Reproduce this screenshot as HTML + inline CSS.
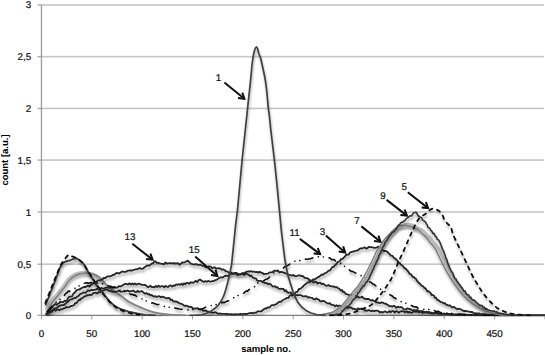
<!DOCTYPE html>
<html><head><meta charset="utf-8"><style>
html,body{margin:0;padding:0;background:#fff;}
body{width:545px;height:355px;overflow:hidden;}
svg{display:block;font-family:"Liberation Sans",sans-serif;text-rendering:geometricPrecision;}
.t{font-size:9.8px;fill:#111;stroke:#111;stroke-width:0.22px;}
.b{font-size:9.5px;font-weight:bold;fill:#000;}
</style></head><body>
<svg width="545" height="355" viewBox="0 0 545 355">
<defs><filter id="sh" x="-5%" y="-5%" width="110%" height="120%"><feDropShadow dx="0.6" dy="2.6" stdDeviation="1.3" flood-color="#000" flood-opacity="0.34"/></filter><clipPath id="pc"><rect x="41.5" y="0" width="504" height="316.2"/></clipPath></defs>
<rect width="545" height="355" fill="#fff"/>
<rect x="41.45" y="263.40" width="502.55" height="1.6" fill="#c6c6c6"/><rect x="41.45" y="211.20" width="502.55" height="1.6" fill="#c6c6c6"/><rect x="41.45" y="159.30" width="502.55" height="1.6" fill="#c6c6c6"/><rect x="41.45" y="107.65" width="502.55" height="1.6" fill="#c6c6c6"/><rect x="41.45" y="55.85" width="502.55" height="1.6" fill="#c6c6c6"/><rect x="41.45" y="4.15" width="502.55" height="1.6" fill="#c6c6c6"/>
<rect x="40.80" y="4.95" width="1.3" height="310.40" fill="#9a9a9a"/>
<rect x="37.6" y="314.75" width="3.85" height="1.2" fill="#a0a0a0"/><rect x="37.6" y="263.60" width="3.85" height="1.2" fill="#a0a0a0"/><rect x="37.6" y="211.40" width="3.85" height="1.2" fill="#a0a0a0"/><rect x="37.6" y="159.50" width="3.85" height="1.2" fill="#a0a0a0"/><rect x="37.6" y="107.85" width="3.85" height="1.2" fill="#a0a0a0"/><rect x="37.6" y="56.05" width="3.85" height="1.2" fill="#a0a0a0"/><rect x="37.6" y="4.35" width="3.85" height="1.2" fill="#a0a0a0"/><rect x="40.95" y="315.35" width="1" height="4" fill="#a0a0a0"/><rect x="91.30" y="315.35" width="1" height="4" fill="#a0a0a0"/><rect x="141.65" y="315.35" width="1" height="4" fill="#a0a0a0"/><rect x="192.00" y="315.35" width="1" height="4" fill="#a0a0a0"/><rect x="242.35" y="315.35" width="1" height="4" fill="#a0a0a0"/><rect x="292.70" y="315.35" width="1" height="4" fill="#a0a0a0"/><rect x="343.05" y="315.35" width="1" height="4" fill="#a0a0a0"/><rect x="393.40" y="315.35" width="1" height="4" fill="#a0a0a0"/><rect x="443.75" y="315.35" width="1" height="4" fill="#a0a0a0"/><rect x="494.10" y="315.35" width="1" height="4" fill="#a0a0a0"/><rect x="544.45" y="315.35" width="1" height="4" fill="#a0a0a0"/>
<g class="t"><text x="31.2" y="318.85" text-anchor="end">0</text><text x="31.2" y="267.70" text-anchor="end">0,5</text><text x="31.2" y="215.50" text-anchor="end">1</text><text x="31.2" y="163.60" text-anchor="end">1,5</text><text x="31.2" y="111.95" text-anchor="end">2</text><text x="31.2" y="60.15" text-anchor="end">2,5</text><text x="31.2" y="8.45" text-anchor="end">3</text><text x="41.45" y="337.1" text-anchor="middle">0</text><text x="91.80" y="337.1" text-anchor="middle">50</text><text x="142.15" y="337.1" text-anchor="middle">100</text><text x="192.50" y="337.1" text-anchor="middle">150</text><text x="242.85" y="337.1" text-anchor="middle">200</text><text x="293.20" y="337.1" text-anchor="middle">250</text><text x="343.55" y="337.1" text-anchor="middle">300</text><text x="393.90" y="337.1" text-anchor="middle">350</text><text x="444.25" y="337.1" text-anchor="middle">400</text><text x="494.60" y="337.1" text-anchor="middle">450</text></g>
<rect x="41.45" y="314.75" width="502.55" height="1.2" fill="#7a7a7a"/>
<g clip-path="url(#pc)"><path d="M45.90 309.60 C46.45 308.50 48.12 304.83 49.20 303.00 C50.28 301.17 51.28 300.03 52.40 298.60 C53.52 297.17 54.73 295.85 55.90 294.40 C57.07 292.95 58.23 291.37 59.40 289.90 C60.57 288.43 61.55 287.43 62.90 285.60 C64.25 283.77 65.88 280.70 67.50 278.90 C69.12 277.10 70.92 275.85 72.60 274.80 C74.28 273.75 75.92 273.10 77.60 272.60 C79.28 272.10 81.00 271.85 82.70 271.80 C84.40 271.75 86.10 272.05 87.80 272.30 C89.50 272.55 91.22 272.67 92.90 273.30 C94.58 273.93 96.37 274.88 97.90 276.10 C99.43 277.32 101.40 279.85 102.10 280.60" fill="none" stroke="#bdbdbd" stroke-width="1.6" stroke-linejoin="round" stroke-linecap="round" opacity="1" filter="url(#sh)"/>
<path d="M47.50 311.00 C48.05 309.90 49.72 306.23 50.80 304.40 C51.88 302.57 52.88 301.43 54.00 300.00 C55.12 298.57 56.33 297.25 57.50 295.80 C58.67 294.35 59.83 292.77 61.00 291.30 C62.17 289.83 63.15 288.83 64.50 287.00 C65.85 285.17 67.48 282.10 69.10 280.30 C70.72 278.50 72.52 277.25 74.20 276.20 C75.88 275.15 77.52 274.50 79.20 274.00 C80.88 273.50 82.60 273.25 84.30 273.20 C86.00 273.15 87.70 273.45 89.40 273.70 C91.10 273.95 92.82 274.07 94.50 274.70 C96.18 275.33 97.97 276.28 99.50 277.50 C101.03 278.72 102.20 280.45 103.70 282.00 C105.20 283.55 106.63 285.17 108.50 286.80 C110.37 288.43 112.60 290.13 114.90 291.80 C117.20 293.47 120.03 295.15 122.30 296.80 C124.57 298.45 126.23 300.27 128.50 301.70 C130.77 303.13 133.82 304.42 135.90 305.40 C137.98 306.38 138.98 306.75 141.00 307.60 C143.02 308.45 145.17 309.55 148.00 310.50 C150.83 311.45 154.33 312.58 158.00 313.30 C161.67 314.02 165.50 314.47 170.00 314.80 C174.50 315.13 182.50 315.22 185.00 315.30" fill="none" stroke="#858585" stroke-width="2.0" stroke-linejoin="round" stroke-linecap="round" opacity="1" filter="url(#sh)"/>
<path d="M46.5 313.7 L47.4 313.4 L48.4 312.2 L49.3 310.1 L50.2 309.4 L51.1 308.2 L52.1 307.4 L53.0 306.5 L54.2 304.7 L55.4 304.0 L56.6 304.9 L57.8 303.6 L59.0 303.6 L60.2 301.7 L61.7 302.0 L63.2 302.1 L64.7 300.7 L65.9 301.1 L67.1 300.1 L68.3 297.7 L69.5 296.6 L70.8 296.6 L72.0 296.3 L73.0 294.3 L74.1 292.9 L75.1 292.3 L76.2 290.6 L77.2 289.9 L78.6 289.7 L80.0 289.2 L81.5 288.1 L82.9 287.5 L84.3 286.9 L85.6 287.0 L86.8 286.3 L88.1 285.4 L89.4 286.5 L90.9 285.0 L92.4 284.1 L93.7 282.6 L95.0 283.4 L96.2 282.6 L97.5 280.6 L98.7 280.3 L100.0 280.4 L101.2 279.7 L102.5 279.4 L103.7 277.9 L104.9 278.1 L106.2 277.4 L107.4 276.3 L108.7 276.3 L109.9 276.4 L111.5 275.9 L113.0 274.8 L114.5 274.5 L116.1 273.1 L117.6 273.0 L119.2 273.5 L120.8 272.3 L122.3 271.4 L123.7 271.8 L125.2 271.8 L126.6 271.5 L128.0 270.6 L129.4 270.5 L130.9 270.3 L132.3 270.5 L133.8 269.8 L135.4 269.4 L136.9 269.4 L138.5 268.4 L140.0 268.2 L141.4 268.8 L142.8 268.7 L144.2 267.5 L145.6 266.6 L147.0 265.6 L148.2 265.5 L149.4 265.7 L150.6 264.6 L151.9 263.5 L153.1 263.3 L154.3 261.5 L155.5 261.3 L156.9 262.8 L158.3 262.8 L159.7 263.3 L161.1 263.7 L162.5 263.9 L163.9 264.4 L165.3 262.4 L166.8 263.5 L168.2 263.3 L169.6 263.1 L171.0 263.1 L172.4 263.4 L173.8 263.2 L175.2 263.5 L176.6 263.5 L178.0 263.1 L179.4 264.8 L180.8 263.7 L182.2 262.5 L183.7 262.6 L185.1 262.0 L186.5 261.3 L187.9 260.7 L189.0 261.9 L190.1 262.9 L191.3 263.7 L192.4 264.3 L193.5 264.4 L194.8 264.5 L196.1 264.2 L197.4 264.7 L198.7 265.0 L200.0 264.6 L201.4 265.3 L202.8 266.0 L204.2 265.7 L205.6 267.4 L206.9 267.3 L208.2 266.4 L209.6 266.5 L210.9 266.7 L212.2 268.3 L213.5 267.5 L214.9 267.5 L216.2 268.7 L217.6 268.4 L218.9 268.1 L220.3 268.5 L221.7 269.6 L223.1 269.4 L224.5 270.0 L225.9 271.2 L227.1 271.5 L228.3 272.1 L229.5 273.2 L230.9 272.4 L232.2 273.1 L233.6 273.3 L235.0 272.9 L236.7 273.0 L238.3 274.6 L240.0 274.0 L241.5 273.6 L243.0 274.4 L244.5 274.9 L246.0 273.6 L247.3 274.0 L248.7 274.7 L250.0 276.1 L251.3 275.5 L252.5 277.2 L253.6 277.8 L254.8 278.3 L256.0 278.4 L257.1 280.5 L258.3 280.8 L259.7 280.9 L261.1 280.9 L262.6 282.2 L264.0 282.4 L265.4 283.2 L266.8 283.2 L268.2 284.3 L269.6 283.7 L271.0 284.6 L272.4 286.3 L273.8 286.6 L275.0 286.1 L276.2 287.5 L277.4 287.1 L278.7 288.7 L279.9 288.8 L281.1 288.7 L282.3 289.0 L283.5 289.0 L284.7 291.1 L285.9 290.1 L287.1 292.0 L288.3 292.8 L289.5 292.6 L290.7 292.4 L292.1 294.2 L293.5 294.9 L294.9 294.9 L296.3 295.1 L298.1 295.1 L300.0 295.2 L301.4 295.3 L302.7 296.4 L304.1 296.3 L305.4 296.1 L306.8 296.3 L308.1 297.6 L309.5 297.2 L310.8 297.8 L312.2 297.8 L313.5 299.1 L314.9 299.5 L316.2 298.3 L317.6 299.1 L318.9 299.7 L320.3 301.3 L321.6 301.3 L323.0 300.9 L324.3 301.1 L325.7 302.3 L327.0 303.0 L328.4 303.7 L329.7 303.2 L331.1 304.7 L332.4 304.9 L333.8 305.1 L335.1 306.3 L336.5 305.2 L337.8 306.3 L339.2 305.5 L340.5 305.9 L341.9 307.4 L343.2 306.4 L344.6 307.5 L345.9 307.4 L347.3 308.0 L348.6 307.4 L350.0 307.5 L351.4 307.6 L352.7 308.9 L354.1 308.6 L355.4 309.4 L356.8 309.5 L358.1 308.3 L359.5 309.3 L360.8 308.7 L362.1 308.7 L363.4 308.9 L364.8 310.5 L366.1 310.5 L367.4 310.8 L368.7 310.1 L370.0 310.7 L371.4 311.2 L372.9 310.7 L374.3 311.2 L375.7 310.7 L377.1 310.7 L378.6 311.2 L380.0 312.5 L381.3 311.9 L382.7 312.6 L384.0 311.7 L385.3 311.4 L386.7 312.3 L388.0 312.4 L389.3 311.0 L390.7 312.2 L392.0 311.1 L393.3 311.2 L394.7 312.6 L396.0 311.1 L397.3 311.4 L398.7 312.8 L400.0 311.8 L401.3 311.2 L402.7 311.3 L404.0 311.5 L405.3 312.4 L406.7 311.2 L408.0 312.7 L409.3 311.7 L410.7 312.8 L412.0 312.7 L413.3 311.6 L414.7 311.5 L416.0 311.9 L417.3 311.3 L418.7 312.3 L420.0 311.2 L421.3 311.2 L422.6 313.1 L423.9 311.9 L425.3 312.6 L426.6 312.4 L427.9 312.3 L429.2 312.0 L430.5 313.4 L431.8 313.6 L433.2 313.6 L434.5 312.6 L435.8 312.8 L437.1 313.4 L438.4 313.9 L439.7 313.5 L441.1 313.8 L442.4 313.9 L443.7 313.6 L445.0 313.9 L446.3 313.8 L447.6 313.9 L448.9 313.8 L450.3 314.0 L451.6 314.6 L452.9 314.3 L454.2 314.5 L455.5 314.6 L456.8 314.8 L458.2 314.6 L459.5 314.6 L460.8 314.7 L462.1 314.8 L463.4 315.0 L464.7 315.1 L466.1 315.1 L467.4 315.1 L468.7 315.2 L470.0 315.3 L471.3 315.3 L472.6 315.3 L473.9 315.3 L475.2 315.3 L476.5 315.3 L477.8 315.3 L479.1 315.3 L480.5 315.3 L481.8 315.3 L483.1 315.3 L484.4 315.3 L485.7 315.3 L487.0 315.3 L488.3 315.3 L489.6 315.3 L490.9 315.3 L492.2 315.3 L493.5 315.3 L494.8 315.3 L496.1 315.3 L497.4 315.3 L498.8 315.3 L500.1 315.3 L501.4 315.3 L502.7 315.3 L504.0 315.3 L505.3 315.3 L506.6 315.3 L507.9 315.3 L509.2 315.3 L510.5 315.3 L511.8 315.3 L513.1 315.3 L514.4 315.3 L515.7 315.3 L517.1 315.3 L518.4 315.3 L519.7 315.3 L521.0 315.3 L522.3 315.3 L523.6 315.3 L524.9 315.3 L526.2 315.3 L527.5 315.3 L528.8 315.3 L530.1 315.3 L531.4 315.3 L532.7 315.3 L534.0 315.3 L535.4 315.3 L536.7 315.3 L538.0 315.3 L539.3 315.3 L540.6 315.3 L541.9 315.3 L543.2 315.3 L544.5 315.3" fill="none" stroke="#262626" stroke-width="1.8" stroke-linejoin="round" stroke-linecap="round" opacity="1" filter="url(#sh)"/>
<path d="M46.5 314.4 L47.6 313.8 L48.7 311.8 L49.8 311.0 L50.8 311.6 L51.9 310.7 L53.0 309.8 L54.2 308.6 L55.3 308.5 L56.5 307.9 L57.7 307.3 L58.8 306.0 L60.0 305.9 L61.2 305.2 L62.4 305.2 L63.6 305.1 L64.8 304.4 L66.0 303.1 L67.2 302.2 L68.4 301.2 L69.6 300.1 L70.8 299.3 L72.0 299.4 L73.2 298.5 L74.4 298.0 L75.6 298.2 L76.8 296.9 L78.0 296.3 L79.3 295.0 L80.5 293.9 L81.8 293.7 L83.0 292.6 L84.3 292.5 L85.5 292.9 L86.7 291.7 L88.0 290.3 L89.2 291.0 L90.4 290.3 L91.8 290.0 L93.2 290.2 L94.7 289.7 L96.1 289.6 L97.5 288.6 L98.8 289.6 L100.1 289.4 L101.4 287.8 L102.7 288.6 L104.0 288.4 L105.5 287.7 L107.0 287.7 L108.5 287.4 L110.0 288.0 L111.5 287.1 L112.9 287.7 L114.4 286.8 L115.8 287.6 L117.3 287.6 L118.5 286.4 L119.8 286.2 L121.0 286.4 L122.3 285.6 L123.5 284.8 L124.8 283.9 L126.3 283.9 L127.9 284.5 L129.4 283.3 L131.0 284.5 L132.3 283.4 L133.6 284.5 L134.9 283.4 L136.2 284.6 L137.5 284.1 L138.8 283.7 L140.1 284.1 L141.4 284.7 L142.7 284.9 L143.9 284.8 L145.2 285.0 L146.5 285.9 L147.8 287.0 L149.1 286.8 L150.5 285.8 L151.8 287.2 L153.2 287.0 L154.5 287.3 L155.9 286.0 L157.2 287.0 L158.6 285.8 L159.9 286.9 L161.3 286.2 L162.6 286.1 L164.0 287.3 L165.3 285.9 L166.7 286.6 L168.0 287.0 L169.4 285.7 L170.7 285.5 L172.0 286.5 L173.4 285.5 L174.7 285.8 L176.1 284.4 L177.4 284.8 L178.7 284.2 L180.1 284.9 L181.4 283.6 L182.7 285.0 L184.0 283.2 L185.3 284.3 L186.6 282.8 L187.8 283.0 L189.1 283.8 L190.4 282.5 L191.7 282.3 L193.1 282.8 L194.5 281.9 L195.8 280.8 L197.2 282.1 L198.6 280.2 L200.0 279.6 L201.4 280.5 L202.7 281.3 L204.1 281.9 L205.4 281.1 L206.8 281.8 L208.1 280.9 L209.5 281.3 L210.8 281.6 L212.2 281.2 L213.5 281.1 L214.9 280.3 L216.3 279.9 L217.8 279.0 L219.2 278.1 L220.7 277.2 L222.2 277.7 L223.7 276.7 L225.2 275.7 L226.7 275.8 L228.2 276.0 L229.9 273.8 L231.6 273.8 L233.0 273.6 L234.4 274.0 L235.8 273.5 L237.2 275.1 L238.6 274.0 L240.0 274.8 L241.4 274.0 L242.8 272.9 L244.2 273.4 L245.6 272.3 L247.0 271.7 L248.4 271.5 L249.8 271.5 L251.2 271.2 L252.7 271.9 L254.1 271.5 L255.5 272.2 L256.9 271.9 L258.3 272.6 L259.7 271.8 L261.1 272.7 L262.5 273.0 L263.9 274.2 L265.3 273.9 L266.7 273.9 L268.2 273.5 L269.6 272.4 L271.0 272.4 L272.4 272.2 L273.8 270.9 L275.2 270.6 L276.6 270.9 L278.0 270.8 L279.4 272.3 L280.9 271.9 L282.3 272.1 L283.7 272.6 L285.1 273.2 L286.5 273.6 L287.9 274.6 L289.3 274.9 L290.7 275.1 L292.0 275.7 L293.4 274.9 L294.7 276.1 L296.0 276.2 L297.3 275.8 L298.7 275.3 L300.0 275.4 L301.4 276.2 L302.7 276.0 L304.1 277.3 L305.4 278.2 L306.8 278.2 L308.1 278.6 L309.5 280.4 L310.8 280.2 L312.2 281.0 L313.5 282.3 L314.9 282.1 L316.2 281.9 L317.6 283.6 L318.9 282.9 L320.3 282.6 L321.6 284.2 L323.0 283.6 L324.3 284.4 L325.7 285.7 L327.0 285.8 L328.4 284.9 L329.8 286.0 L331.2 286.2 L332.7 286.6 L334.1 286.4 L335.5 287.4 L336.9 287.1 L338.2 288.2 L339.6 289.0 L341.0 290.7 L342.1 290.0 L343.2 292.1 L344.3 292.0 L345.4 293.5 L346.5 294.1 L347.9 294.5 L349.2 295.3 L350.6 294.9 L352.0 294.7 L353.5 295.0 L354.9 295.2 L356.4 296.9 L357.9 296.8 L359.3 297.6 L360.8 297.4 L362.1 296.6 L363.4 298.1 L364.6 298.7 L365.9 299.0 L367.2 298.9 L368.5 299.0 L369.8 299.6 L371.1 300.6 L372.4 300.0 L373.6 300.8 L374.9 301.1 L376.2 302.3 L377.5 302.4 L378.8 302.9 L380.2 303.1 L381.5 302.4 L382.8 302.6 L384.2 303.5 L385.5 303.6 L386.9 304.4 L388.3 305.3 L389.6 306.2 L391.0 306.1 L392.4 306.7 L393.8 305.7 L395.1 306.5 L396.5 307.9 L397.9 306.6 L399.2 307.4 L400.6 307.0 L402.0 307.4 L403.4 309.0 L404.8 309.5 L406.1 309.1 L407.5 308.4 L408.9 308.9 L410.2 309.0 L411.6 310.1 L413.0 310.3 L414.4 310.1 L415.8 310.5 L417.1 310.0 L418.5 311.0 L419.9 312.0 L421.2 311.9 L422.6 310.9 L424.0 311.9 L425.3 312.4 L426.7 311.7 L428.0 313.0 L429.3 312.4 L430.7 312.9 L432.0 312.6 L433.3 313.6 L434.7 313.4 L436.0 313.3 L437.3 312.9 L438.7 313.4 L440.0 313.1 L441.3 313.8 L442.7 314.1 L444.0 313.6 L445.3 313.9 L446.7 314.0 L448.0 314.0 L449.3 314.3 L450.7 314.5 L452.0 314.4 L453.3 314.4 L454.7 314.7 L456.0 314.5 L457.3 314.7 L458.7 314.8 L460.0 314.9 L461.3 314.9 L462.7 314.8 L464.0 314.9 L465.3 314.9 L466.7 315.0 L468.0 315.1 L469.3 315.1 L470.7 315.0 L472.0 315.1 L473.3 315.2 L474.7 315.2 L476.0 315.2 L477.3 315.2 L478.7 315.3 L480.0 315.3 L481.3 315.3 L482.6 315.3 L483.9 315.3 L485.3 315.3 L486.6 315.3 L487.9 315.3 L489.2 315.3 L490.5 315.3 L491.8 315.3 L493.2 315.3 L494.5 315.3 L495.8 315.3 L497.1 315.3 L498.4 315.3 L499.7 315.3 L501.1 315.3 L502.4 315.3 L503.7 315.3 L505.0 315.3 L506.3 315.3 L507.6 315.3 L509.0 315.3 L510.3 315.3 L511.6 315.3 L512.9 315.3 L514.2 315.3 L515.5 315.3 L516.9 315.3 L518.2 315.3 L519.5 315.3 L520.8 315.3 L522.1 315.3 L523.4 315.3 L524.8 315.3 L526.1 315.3 L527.4 315.3 L528.7 315.3 L530.0 315.3 L531.3 315.3 L532.7 315.3 L534.0 315.3 L535.3 315.3 L536.6 315.3 L537.9 315.3 L539.2 315.3 L540.6 315.3 L541.9 315.3 L543.2 315.3 L544.5 315.3" fill="none" stroke="#262626" stroke-width="1.8" stroke-linejoin="round" stroke-linecap="round" opacity="1" filter="url(#sh)"/>
<path d="M46.5 313.8 L47.8 313.4 L49.1 312.6 L50.4 312.4 L51.7 311.8 L53.0 310.3 L54.3 309.9 L55.6 310.9 L56.9 309.7 L58.1 309.4 L59.4 310.3 L60.7 309.2 L62.0 309.4 L63.4 308.4 L64.9 308.2 L66.3 307.0 L67.8 307.3 L69.2 307.2 L70.8 306.0 L72.4 305.8 L74.0 305.1 L75.0 303.2 L76.1 303.5 L77.1 302.3 L78.1 301.0 L79.2 299.6 L80.2 300.1 L81.2 298.6 L82.2 298.1 L83.3 297.5 L84.3 296.3 L85.6 296.4 L86.8 295.2 L88.1 295.5 L89.4 294.7 L90.7 295.1 L92.0 294.7 L93.2 293.2 L94.5 292.9 L95.9 292.7 L97.2 293.5 L98.6 292.3 L100.0 292.2 L101.2 291.1 L102.5 290.9 L103.7 290.2 L105.0 289.6 L106.2 289.4 L107.8 289.9 L109.3 290.9 L110.9 291.0 L112.4 291.9 L114.0 291.8 L115.5 292.0 L117.0 291.5 L118.6 290.7 L120.1 291.6 L121.7 291.6 L123.2 291.4 L124.8 290.7 L126.3 291.1 L127.8 290.4 L129.2 291.5 L130.7 291.2 L132.2 290.9 L133.6 290.6 L134.9 291.9 L136.3 292.2 L137.6 290.8 L139.0 292.0 L140.3 291.5 L141.7 291.1 L142.9 291.9 L144.2 293.1 L145.4 293.8 L146.6 293.0 L147.9 294.4 L149.1 294.0 L150.4 295.3 L151.7 295.0 L153.0 296.1 L154.2 296.6 L155.5 296.1 L156.8 297.1 L158.1 296.3 L159.4 296.2 L160.9 297.3 L162.3 296.7 L163.8 297.2 L165.3 297.8 L166.7 298.3 L168.2 297.8 L169.5 298.2 L170.7 300.0 L172.0 299.6 L173.2 301.2 L174.5 301.6 L175.7 301.3 L177.0 301.9 L178.3 302.6 L179.5 303.3 L180.8 303.7 L182.0 304.2 L183.3 304.8 L184.5 305.9 L185.8 305.7 L187.3 306.0 L188.7 306.9 L190.2 306.6 L191.6 307.1 L193.1 308.7 L194.6 308.3 L196.1 308.7 L197.5 308.1 L199.0 309.1 L200.5 309.7 L201.8 309.2 L203.1 310.5 L204.4 310.8 L205.8 310.3 L207.1 311.5 L208.4 311.6 L209.7 312.3 L211.0 312.0 L212.3 312.7 L213.6 312.9 L214.9 312.2 L216.1 312.5 L217.4 313.4 L218.7 313.9 L220.0 313.4 L221.3 313.8 L222.7 313.9 L224.2 313.8 L225.6 313.9 L227.1 314.0 L228.5 314.1 L229.9 314.3 L231.4 314.2 L232.8 314.3 L234.1 314.5 L235.4 314.1 L236.8 314.3 L238.1 314.4 L239.4 314.1 L240.7 314.0 L242.0 314.3 L243.4 313.9 L244.7 313.8 L246.0 314.0 L247.4 313.9 L248.9 313.2 L250.3 313.1 L251.7 312.9 L253.1 313.3 L254.6 312.5 L256.0 312.9 L257.3 311.5 L258.6 311.3 L260.0 311.4 L261.3 311.4 L262.6 310.3 L263.8 309.3 L265.1 308.5 L266.3 308.5 L267.5 307.3 L268.8 307.6 L270.0 307.0 L271.3 305.4 L272.6 305.0 L273.8 305.3 L275.1 304.5 L276.4 304.2 L277.6 302.9 L278.9 302.0 L280.2 301.7 L281.3 301.8 L282.5 300.3 L283.6 299.8 L284.7 299.2 L285.9 298.5 L287.0 297.9 L288.3 297.9 L289.6 295.9 L290.9 294.9 L292.2 295.6 L293.5 294.7 L294.6 293.9 L295.7 292.1 L296.8 292.0 L297.8 291.1 L298.9 289.0 L300.0 288.9 L301.1 288.2 L302.3 287.1 L303.4 286.0 L304.5 284.8 L305.7 284.1 L306.8 283.1 L308.1 282.1 L309.5 282.3 L310.9 281.1 L312.2 281.3 L313.3 279.3 L314.4 279.8 L315.4 278.7 L316.5 278.3 L317.6 277.4 L318.9 276.9 L320.3 275.8 L321.6 274.4 L323.0 275.0 L324.3 273.6 L325.4 273.0 L326.5 272.7 L327.5 271.7 L328.6 270.7 L329.7 270.7 L330.7 269.3 L331.7 267.9 L332.7 266.8 L333.7 266.9 L334.7 265.3 L335.7 264.9 L336.7 263.3 L337.7 262.1 L338.7 261.7 L339.8 261.2 L340.8 259.2 L341.9 259.3 L342.9 258.6 L344.0 257.4 L345.0 256.5 L346.2 254.5 L347.5 254.8 L348.7 254.5 L350.0 252.5 L351.2 252.1 L352.6 251.6 L353.9 251.5 L355.3 250.9 L356.6 250.5 L358.0 250.4 L359.4 248.8 L360.7 248.5 L362.1 248.3 L363.4 247.9 L364.8 247.4 L366.1 248.6 L367.4 248.2 L368.7 246.8 L370.0 247.2 L371.4 247.2 L372.7 247.4 L374.1 247.8 L375.5 247.9 L376.9 247.4 L378.3 246.7 L379.4 247.2 L380.4 248.2 L381.4 248.6 L382.5 250.1 L383.7 250.9 L384.9 251.0 L386.2 251.1 L387.4 251.9 L388.6 253.1 L389.9 254.4 L391.1 255.6 L392.4 255.9 L393.6 257.5 L394.6 258.2 L395.7 259.0 L396.7 259.9 L397.7 261.1 L398.8 262.5 L399.8 263.1 L400.8 264.5 L401.9 265.2 L402.9 265.9 L403.9 267.4 L405.0 268.7 L406.0 268.7 L407.0 270.3 L408.1 271.3 L409.1 273.1 L410.1 274.2 L411.2 274.4 L412.2 276.2 L413.1 277.0 L414.0 277.1 L415.0 278.3 L415.9 278.7 L416.8 280.7 L417.7 281.4 L418.6 282.7 L419.6 283.5 L420.5 284.3 L421.4 285.4 L422.4 286.1 L423.4 286.4 L424.3 288.1 L425.2 288.2 L426.2 289.4 L427.3 291.4 L428.4 291.1 L429.5 292.1 L430.6 293.0 L431.7 295.2 L432.8 295.0 L433.9 295.7 L435.0 297.9 L436.1 297.7 L437.2 299.8 L438.5 300.2 L439.8 301.3 L441.1 302.2 L442.4 302.4 L443.7 303.5 L445.0 303.1 L446.2 304.8 L447.5 304.9 L448.8 305.7 L450.0 305.3 L451.2 306.8 L452.5 307.6 L453.8 306.8 L455.0 307.7 L456.2 308.5 L457.5 309.3 L458.8 308.7 L460.0 309.0 L461.2 309.5 L462.5 310.4 L463.8 311.0 L465.0 310.8 L466.4 311.1 L467.8 311.4 L469.1 311.6 L470.5 312.0 L471.9 311.8 L473.2 312.7 L474.6 313.6 L476.0 313.2 L477.4 313.7 L478.8 313.3 L480.2 313.9 L481.6 314.1 L483.0 314.2 L484.4 314.2 L485.8 314.3 L487.2 314.6 L488.6 314.8 L490.0 314.7 L491.4 314.8 L492.9 315.0 L494.3 315.1 L495.7 315.1 L497.1 315.2 L498.6 315.2 L500.0 315.3 L501.3 315.3 L502.6 315.3 L503.9 315.3 L505.2 315.3 L506.5 315.3 L507.9 315.3 L509.2 315.3 L510.5 315.3 L511.8 315.3 L513.1 315.3 L514.4 315.3 L515.7 315.3 L517.0 315.3 L518.3 315.3 L519.6 315.3 L520.9 315.3 L522.2 315.3 L523.6 315.3 L524.9 315.3 L526.2 315.3 L527.5 315.3 L528.8 315.3 L530.1 315.3 L531.4 315.3 L532.7 315.3 L534.0 315.3 L535.3 315.3 L536.6 315.3 L538.0 315.3 L539.3 315.3 L540.6 315.3 L541.9 315.3 L543.2 315.3 L544.5 315.3" fill="none" stroke="#262626" stroke-width="1.8" stroke-linejoin="round" stroke-linecap="round" opacity="1" filter="url(#sh)"/>
<path d="M45.8 304.5 L49.0 296.5 L52.1 288.5 L55.3 280.3 L58.0 273.0 L60.3 267.0 L62.8 263.2 L65.5 261.5 L68.6 260.8 L71.4 259.8 L74.2 258.5 L76.5 258.3 L79.0 259.8 L82.1 262.1 L85.1 266.1 L87.1 270.2 L89.7 274.2 L92.2 278.3 L94.7 282.3 L97.3 286.4 L100.5 290.0 L103.8 294.0 L109.9 301.7 L114.9 306.1 L121.1 309.2 L128.5 311.6 L137.2 313.5 L145.0 314.8 L155.0 315.3" fill="none" stroke="#3a3a3a" stroke-width="1.8" stroke-linejoin="round" stroke-linecap="round" opacity="1" filter="url(#sh)"/>
<path d="M45.30 303.00 C45.83 301.67 47.47 297.58 48.50 295.00 C49.53 292.42 50.50 290.00 51.50 287.50 C52.50 285.00 53.50 282.50 54.50 280.00 C55.50 277.50 56.45 275.03 57.50 272.50 C58.55 269.97 59.83 266.67 60.80 264.80 C61.77 262.93 62.43 262.52 63.30 261.30 C64.17 260.08 65.18 258.52 66.00 257.50 C66.82 256.48 67.45 255.48 68.20 255.20 C68.95 254.92 69.57 255.50 70.50 255.80 C71.43 256.10 72.83 256.62 73.80 257.00 C74.77 257.38 75.35 257.55 76.30 258.10 C77.25 258.65 78.47 259.48 79.50 260.30 C80.53 261.12 81.50 261.88 82.50 263.00 C83.50 264.12 84.58 265.67 85.50 267.00 C86.42 268.33 87.17 269.67 88.00 271.00 C88.83 272.33 89.58 273.58 90.50 275.00 C91.42 276.42 92.50 278.00 93.50 279.50 C94.50 281.00 95.42 282.42 96.50 284.00 C97.58 285.58 98.50 286.87 100.00 289.00 C101.50 291.13 103.42 294.22 105.50 296.80 C107.58 299.38 109.92 302.28 112.50 304.50 C115.08 306.72 117.70 308.57 121.00 310.10 C124.30 311.63 129.25 312.92 132.30 313.70 C135.35 314.48 138.13 314.62 139.30 314.80" fill="none" stroke="#111" stroke-width="1.8" stroke-dasharray="3.6 4.6" stroke-linejoin="round" stroke-linecap="round" opacity="1" filter="url(#sh)"/>
<path d="M47.0 311.8 L47.9 310.7 L48.7 310.2 L49.6 308.6 L50.4 308.0 L51.3 306.9 L52.1 305.6 L53.0 305.0 L54.1 303.7 L55.2 303.3 L56.2 302.0 L57.3 301.2 L58.4 300.7 L59.5 300.1 L60.6 298.4 L61.8 297.4 L62.9 296.8 L63.9 296.0 L65.0 294.5 L66.0 293.2 L67.0 292.7 L68.2 291.1 L69.5 291.4 L70.8 290.2 L72.0 289.4 L73.6 288.7 L75.2 288.2 L76.5 287.9 L77.7 286.4 L79.0 286.0 L80.2 285.2 L81.6 284.5 L83.0 284.2 L84.4 283.3 L85.8 282.9 L87.2 282.9 L88.6 283.2 L90.0 282.9 L91.4 282.6 L93.1 282.9 L94.8 282.8 L96.5 282.6 L98.0 283.3 L99.4 283.5 L100.9 283.3 L102.3 283.8 L103.8 284.0 L105.2 284.9 L106.5 285.2 L107.9 285.3 L109.3 286.5 L110.6 286.1 L112.0 286.9 L113.3 287.8 L114.7 287.7 L116.0 288.5 L117.3 288.5 L118.7 289.7 L120.0 290.3 L121.2 290.5 L122.4 291.3 L123.7 291.1 L124.9 292.0 L126.1 292.3 L127.3 292.7 L128.6 293.1 L129.8 293.9 L131.0 294.4 L132.2 294.4 L133.4 295.1 L134.7 294.9 L135.9 296.0 L137.2 296.6 L138.4 297.6 L139.7 298.1 L140.9 298.3 L142.2 299.0 L143.4 300.0 L144.7 300.0 L146.1 300.9 L147.4 301.1 L148.8 301.5 L150.2 301.9 L151.6 303.1 L152.9 302.9 L154.3 303.5 L155.7 304.1 L157.4 304.8 L159.1 304.3 L160.8 304.9 L162.1 305.4 L163.4 306.1 L164.6 306.4 L165.9 306.8 L167.2 306.6 L168.4 307.1 L169.7 307.4 L171.0 308.3 L172.4 308.5 L173.8 307.9 L175.2 308.1 L176.6 308.4 L177.9 308.6 L179.3 309.0 L180.7 309.3 L182.1 309.2 L183.6 309.0 L185.1 309.5 L186.5 309.6 L188.0 309.9 L189.4 310.2 L190.8 309.8 L192.2 309.6 L193.7 309.6 L195.1 309.6 L196.5 308.9 L197.8 309.5 L199.1 309.3 L200.4 309.2 L201.7 309.0 L203.0 308.4 L204.3 307.9 L205.7 307.1 L207.0 307.1 L208.4 306.1 L209.7 305.6 L211.1 305.5 L212.6 305.3 L214.1 305.2 L215.5 304.8 L216.9 304.2 L218.4 303.9 L219.9 303.3 L221.3 303.1 L222.7 302.3 L224.0 302.7 L225.4 302.1 L226.8 301.2 L228.1 300.9 L229.5 300.5 L230.8 299.6 L232.0 298.4 L233.2 298.1 L234.5 297.3 L235.9 296.3 L237.4 295.9 L238.9 295.0 L240.3 294.6 L241.5 294.2 L242.6 293.4 L243.8 293.3 L244.9 292.0 L246.1 291.1 L247.3 291.3 L248.5 290.2 L249.8 289.1 L251.0 288.8 L252.2 287.5 L253.4 287.3 L254.5 286.7 L255.5 285.6 L256.6 284.3 L257.6 282.9 L258.8 282.5 L260.0 281.8 L261.2 281.9 L262.5 281.1 L263.7 280.9 L264.9 279.9 L266.1 279.3 L267.2 279.0 L268.3 278.3 L269.4 277.2 L270.5 276.2 L271.6 275.3 L272.7 274.4 L273.8 272.9 L275.0 272.5 L276.2 271.7 L277.4 270.6 L278.7 269.9 L279.9 269.5 L281.1 268.8 L282.3 268.5 L283.7 267.8 L285.1 266.4 L286.5 265.9 L287.8 265.4 L289.0 264.8 L290.3 263.7 L291.5 263.0 L292.8 262.4 L294.0 261.7 L295.1 261.0 L296.3 260.7 L297.9 260.9 L299.5 260.7 L301.0 260.3 L302.6 260.4 L304.0 260.1 L305.3 259.1 L306.6 259.3 L308.0 259.2 L309.4 258.8 L310.9 258.6 L312.4 258.0 L313.8 257.5 L315.3 257.7 L316.8 256.8 L318.3 256.8 L319.9 257.1 L321.4 256.7 L323.0 256.9 L324.5 257.6 L325.9 257.6 L327.4 257.3 L328.7 257.7 L330.1 258.2 L331.4 259.4 L332.8 259.7 L334.1 259.5 L335.4 260.9 L336.7 261.7 L338.1 262.1 L339.4 262.5 L340.7 263.4 L342.0 263.6 L343.1 264.4 L344.3 266.2 L345.4 266.8 L346.6 267.6 L347.8 268.9 L348.9 269.3 L350.1 270.6 L351.2 271.4 L352.5 271.4 L353.8 272.1 L355.0 272.8 L356.3 273.3 L357.6 274.3 L358.8 274.6 L360.1 275.4 L361.4 275.7 L362.7 277.2 L364.0 277.4 L365.3 278.2 L366.6 279.1 L367.7 280.2 L368.7 280.6 L369.8 281.9 L370.9 282.3 L371.9 283.2 L373.0 284.0 L374.2 284.4 L375.3 285.6 L376.5 286.2 L377.7 286.8 L378.8 288.5 L380.0 288.7 L381.1 289.6 L382.3 290.5 L383.4 291.0 L384.6 291.4 L385.7 292.2 L386.9 292.9 L388.0 293.8 L389.1 293.8 L390.3 295.0 L391.4 295.5 L392.6 296.2 L393.7 297.5 L394.9 298.0 L396.0 298.8 L397.2 299.6 L398.4 300.4 L399.6 300.6 L400.8 301.5 L402.0 302.0 L403.5 302.5 L405.0 303.1 L406.5 303.3 L408.0 303.8 L409.3 304.4 L410.6 305.4 L412.0 305.7 L413.3 306.5 L414.6 307.0 L415.9 306.8 L417.2 307.5 L418.6 308.4 L419.9 308.7 L421.2 308.5 L422.5 308.9 L424.0 309.3 L425.5 309.1 L427.0 309.3 L428.5 309.3 L430.0 310.2 L431.4 310.6 L432.9 311.0 L434.4 310.6 L435.7 311.4 L437.0 311.5 L438.4 311.3 L439.7 312.2 L441.0 312.6 L442.4 312.0 L443.7 313.0 L445.0 312.7 L446.4 312.9 L447.7 313.4 L449.1 313.4 L450.5 313.1 L451.8 313.4 L453.2 313.6 L454.5 313.6 L455.9 313.7 L457.3 313.9 L458.6 314.2 L460.0 314.0 L461.3 314.3 L462.7 314.3 L464.0 314.2 L465.3 314.4 L466.7 314.5 L468.0 314.5 L469.3 314.5 L470.7 314.7 L472.0 314.7 L473.3 314.8 L474.7 314.7 L476.0 314.8 L477.3 314.8 L478.7 315.0 L480.0 315.0 L481.3 315.0 L482.7 315.0 L484.0 315.1 L485.3 315.1 L486.7 315.1 L488.0 315.1 L489.3 315.2 L490.7 315.2 L492.0 315.2 L493.3 315.2 L494.7 315.2 L496.0 315.2 L497.3 315.3 L498.7 315.3 L500.0 315.3" fill="none" stroke="#111" stroke-width="1.6" stroke-dasharray="7.5 6 0.01 5 0.01 6" stroke-linejoin="round" stroke-linecap="round" opacity="1" filter="url(#sh)"/>
<path d="M322.00 315.30 C324.17 314.92 331.83 314.05 335.00 313.00 C338.17 311.95 339.25 310.33 341.00 309.00 C342.75 307.67 343.83 306.75 345.50 305.00 C347.17 303.25 349.27 300.65 351.00 298.50 C352.73 296.35 354.35 294.08 355.90 292.10 C357.45 290.12 358.75 288.62 360.30 286.60 C361.85 284.58 363.75 282.27 365.20 280.00 C366.65 277.73 367.78 275.33 369.00 273.00 C370.22 270.67 371.33 268.33 372.50 266.00 C373.67 263.67 374.83 261.33 376.00 259.00 C377.17 256.67 378.33 254.25 379.50 252.00 C380.67 249.75 381.75 247.58 383.00 245.50 C384.25 243.42 385.67 241.42 387.00 239.50 C388.33 237.58 389.67 235.67 391.00 234.00 C392.33 232.33 393.58 230.75 395.00 229.50 C396.42 228.25 398.00 227.28 399.50 226.50 C401.00 225.72 402.58 225.17 404.00 224.80 C405.42 224.43 406.67 224.27 408.00 224.30 C409.33 224.33 410.67 224.55 412.00 225.00 C413.33 225.45 414.37 226.20 416.00 227.00 C417.63 227.80 420.07 228.58 421.80 229.80 C423.53 231.02 425.03 233.02 426.40 234.30 C427.77 235.58 428.82 236.13 430.00 237.50 C431.18 238.87 432.12 240.72 433.50 242.50 C434.88 244.28 436.62 245.48 438.30 248.20 C439.98 250.92 441.83 255.27 443.60 258.80 C445.37 262.33 446.97 265.87 448.90 269.40 C450.83 272.93 452.92 276.48 455.20 280.00 C457.48 283.52 460.48 287.70 462.60 290.50 C464.72 293.30 465.92 294.80 467.90 296.80 C469.88 298.80 472.15 300.70 474.50 302.50 C476.85 304.30 479.08 306.02 482.00 307.60 C484.92 309.18 488.17 310.80 492.00 312.00 C495.83 313.20 501.17 314.25 505.00 314.80 C508.83 315.35 513.33 315.22 515.00 315.30" fill="none" stroke="#b8b8b8" stroke-width="3.0" stroke-linejoin="round" stroke-linecap="round" opacity="1" filter="url(#sh)"/>
<path d="M318.00 315.30 C320.00 314.92 326.90 313.93 330.00 313.00 C333.10 312.07 334.58 310.98 336.60 309.70 C338.62 308.42 340.27 307.13 342.10 305.30 C343.93 303.47 345.85 300.90 347.60 298.70 C349.35 296.50 350.95 294.12 352.60 292.10 C354.25 290.08 355.95 288.62 357.50 286.60 C359.05 284.58 360.48 282.27 361.90 280.00 C363.32 277.73 364.73 275.33 366.00 273.00 C367.27 270.67 368.33 268.33 369.50 266.00 C370.67 263.67 371.83 261.42 373.00 259.00 C374.17 256.58 375.33 253.67 376.50 251.50 C377.67 249.33 378.75 247.92 380.00 246.00 C381.25 244.08 382.67 241.75 384.00 240.00 C385.33 238.25 386.67 236.92 388.00 235.50 C389.33 234.08 390.67 232.75 392.00 231.50 C393.33 230.25 394.75 228.95 396.00 228.00 C397.25 227.05 397.85 226.22 399.50 225.80 C401.15 225.38 404.08 225.43 405.90 225.50 C407.72 225.57 409.08 225.85 410.40 226.20 C411.72 226.55 412.48 227.00 413.80 227.60 C415.12 228.20 416.78 228.68 418.30 229.80 C419.82 230.92 421.53 233.02 422.90 234.30 C424.27 235.58 425.32 236.13 426.50 237.50 C427.68 238.87 428.62 240.72 430.00 242.50 C431.38 244.28 433.12 245.48 434.80 248.20 C436.48 250.92 438.33 255.27 440.10 258.80 C441.87 262.33 443.47 265.87 445.40 269.40 C447.33 272.93 449.42 276.48 451.70 280.00 C453.98 283.52 456.98 287.70 459.10 290.50 C461.22 293.30 462.42 294.80 464.40 296.80 C466.38 298.80 468.63 300.70 471.00 302.50 C473.37 304.30 475.43 305.93 478.60 307.60 C481.77 309.27 485.60 311.27 490.00 312.50 C494.40 313.73 500.83 314.53 505.00 315.00 C509.17 315.47 508.42 315.25 515.00 315.30 C521.58 315.35 539.58 315.30 544.50 315.30" fill="none" stroke="#7c7c7c" stroke-width="1.4" stroke-linejoin="round" stroke-linecap="round" opacity="1" filter="url(#sh)"/>
<path d="M330.0 315.3 L331.5 315.1 L333.0 315.0 L334.5 314.9 L336.0 314.7 L337.3 314.3 L338.7 314.2 L340.0 313.8 L341.1 312.9 L342.2 311.2 L343.2 310.7 L344.3 309.3 L345.4 308.2 L346.5 307.2 L347.5 306.2 L348.5 306.2 L349.5 305.0 L350.5 303.8 L351.5 302.7 L352.4 300.6 L353.4 299.6 L354.4 299.0 L355.3 298.0 L356.2 296.8 L357.1 295.6 L357.9 293.0 L358.8 292.5 L359.6 291.4 L360.5 290.0 L361.3 288.4 L362.2 287.7 L363.0 285.9 L363.8 286.2 L364.7 285.0 L365.5 283.4 L366.3 281.9 L367.2 281.8 L368.0 280.1 L368.6 279.3 L369.3 278.0 L369.9 276.2 L370.6 274.7 L371.2 273.7 L371.9 272.2 L372.5 270.5 L373.1 269.4 L373.6 268.9 L374.2 266.4 L374.8 265.1 L375.4 264.8 L375.9 262.9 L376.5 262.1 L377.1 260.6 L377.7 259.1 L378.2 258.8 L378.8 256.2 L379.4 255.2 L380.0 253.5 L380.6 252.9 L381.2 251.0 L381.8 249.8 L382.3 249.1 L382.9 247.0 L383.5 246.1 L384.2 245.5 L384.8 243.0 L385.5 241.8 L386.2 240.9 L386.8 240.6 L387.5 239.2 L388.4 237.3 L389.4 236.2 L390.4 234.7 L391.3 233.9 L392.2 232.2 L393.2 232.2 L394.1 231.4 L395.0 230.5 L396.0 229.0 L396.9 228.3 L397.8 225.7 L398.6 225.0 L399.4 224.9 L400.3 223.4 L401.4 222.2 L402.6 222.3 L403.7 221.1 L404.8 220.7 L405.9 219.0 L407.1 218.0 L408.2 217.6 L409.3 216.2 L410.4 215.8 L411.6 215.9 L412.7 214.1 L413.8 212.7 L416.1 212.2 L417.2 213.8 L418.3 216.2 L419.4 216.4 L420.6 217.2 L421.7 217.9 L422.7 220.3 L423.6 220.5 L424.6 221.3 L425.6 222.1 L426.4 223.6 L427.3 225.2 L428.1 227.5 L429.1 227.7 L430.0 228.7 L430.9 230.5 L431.9 231.2 L432.8 233.5 L433.8 233.2 L434.8 235.0 L435.7 236.5 L436.5 237.1 L437.2 239.2 L438.0 239.5 L438.7 240.2 L439.5 241.7 L440.1 242.4 L440.6 244.3 L441.2 245.3 L441.8 247.6 L442.3 248.9 L442.8 249.8 L443.3 250.4 L443.9 252.1 L444.4 253.5 L444.9 254.8 L445.4 256.3 L445.9 258.6 L446.4 258.8 L447.0 260.0 L447.5 262.7 L448.0 263.4 L448.6 265.4 L449.1 265.8 L449.6 267.9 L450.2 268.7 L450.8 270.1 L451.4 271.2 L452.0 272.0 L452.5 272.5 L453.1 273.8 L453.7 276.1 L454.3 277.3 L454.9 278.5 L455.7 278.7 L456.5 280.4 L457.4 281.8 L458.2 282.7 L459.0 284.2 L459.8 284.9 L460.7 286.3 L461.5 287.5 L462.3 288.0 L463.2 290.1 L464.1 291.2 L465.1 290.9 L466.0 293.4 L466.9 294.4 L467.9 295.0 L468.8 295.0 L469.7 297.4 L470.8 297.2 L471.9 299.5 L473.0 300.1 L474.1 300.1 L475.3 301.1 L476.5 302.7 L477.6 303.4 L478.8 304.6 L480.0 305.7 L481.1 305.3 L482.2 305.7 L483.2 307.9 L484.3 307.2 L485.4 309.3 L486.6 308.5 L487.9 310.0 L489.1 310.3 L490.4 310.8 L491.6 310.7 L492.9 311.6 L494.1 310.9 L495.4 312.0 L496.6 311.8 L497.9 313.1 L499.2 313.2 L500.5 313.2 L501.8 313.7 L503.1 313.7 L504.4 314.2 L505.7 314.6 L507.0 314.6 L508.4 314.8 L509.7 314.9 L511.0 314.9 L512.4 315.1 L513.7 315.2 L515.0 315.3 L516.3 315.3 L517.7 315.3 L519.0 315.3 L520.4 315.3 L521.7 315.3 L523.0 315.3 L524.4 315.3 L525.7 315.3 L527.1 315.3 L528.4 315.3 L529.8 315.3 L531.1 315.3 L532.4 315.3 L533.8 315.3 L535.1 315.3 L536.5 315.3 L537.8 315.3 L539.1 315.3 L540.5 315.3 L541.8 315.3 L543.2 315.3 L544.5 315.3" fill="none" stroke="#333" stroke-width="1.6" stroke-linejoin="round" stroke-linecap="round" opacity="1" filter="url(#sh)"/>
<path d="M330.00 315.30 C331.83 315.25 337.33 315.38 341.00 315.00 C344.67 314.62 348.67 313.92 352.00 313.00 C355.33 312.08 358.17 310.63 361.00 309.50 C363.83 308.37 366.83 307.37 369.00 306.20 C371.17 305.03 372.33 304.12 374.00 302.50 C375.67 300.88 377.28 298.67 379.00 296.50 C380.72 294.33 382.38 292.22 384.30 289.50 C386.22 286.78 388.70 283.42 390.50 280.20 C392.30 276.98 393.75 273.32 395.10 270.20 C396.45 267.08 397.30 264.47 398.60 261.50 C399.90 258.53 401.28 255.98 402.90 252.40 C404.52 248.82 406.62 243.82 408.30 240.00 C409.98 236.18 411.55 232.58 413.00 229.50 C414.45 226.42 415.75 223.58 417.00 221.50 C418.25 219.42 419.15 218.20 420.50 217.00 C421.85 215.80 423.77 215.27 425.10 214.30 C426.43 213.33 427.35 212.12 428.50 211.20 C429.65 210.28 430.80 209.07 432.00 208.80 C433.20 208.53 434.52 209.23 435.70 209.60 C436.88 209.97 437.97 210.07 439.10 211.00 C440.23 211.93 441.65 213.80 442.50 215.20 C443.35 216.60 443.37 217.98 444.20 219.40 C445.03 220.82 446.38 222.43 447.50 223.70 C448.62 224.97 450.03 225.38 450.90 227.00 C451.77 228.62 451.77 230.90 452.70 233.40 C453.63 235.90 455.18 239.15 456.50 242.00 C457.82 244.85 458.98 247.08 460.60 250.50 C462.22 253.92 464.33 258.50 466.20 262.50 C468.07 266.50 470.17 271.25 471.80 274.50 C473.43 277.75 474.63 279.67 476.00 282.00 C477.37 284.33 478.67 286.43 480.00 288.50 C481.33 290.57 482.23 292.15 484.00 294.40 C485.77 296.65 488.35 299.70 490.60 302.00 C492.85 304.30 495.20 306.60 497.50 308.20 C499.80 309.80 502.10 310.68 504.40 311.60 C506.70 312.52 508.78 313.18 511.30 313.70 C513.82 314.22 516.38 314.43 519.50 314.70 C522.62 314.97 528.25 315.20 530.00 315.30" fill="none" stroke="#111" stroke-width="1.8" stroke-dasharray="3.4 4.8" stroke-linejoin="round" stroke-linecap="round" opacity="1" filter="url(#sh)"/>
<path d="M190.0 315.3 L196.0 315.2 L202.0 314.8 L206.0 313.5 L210.7 311.4 L215.0 308.3 L218.6 304.8 L221.5 300.5 L223.8 295.7 L225.8 289.5 L227.7 282.6 L229.7 274.0 L231.6 264.3 L233.6 245.0 L235.6 225.0 L237.5 210.0 L239.8 185.0 L242.1 160.0 L243.7 145.0 L245.3 130.0 L246.9 115.0 L247.8 106.0 L249.0 95.0 L250.1 85.0 L251.1 75.0 L252.0 65.0 L253.1 56.6 L254.2 51.5 L255.3 48.3 L256.3 47.0 L257.3 47.8 L258.0 50.3 L258.7 53.0 L259.4 55.0 L260.1 56.6 L261.0 59.5 L262.0 64.0 L263.3 70.0 L264.6 76.0 L265.6 82.0 L266.4 88.0 L267.3 97.0 L268.3 108.4 L269.3 115.0 L270.8 130.0 L272.6 145.0 L274.4 160.0 L277.0 185.0 L279.4 210.0 L281.6 233.0 L283.3 247.0 L284.9 259.7 L286.5 268.5 L288.2 276.2 L290.7 284.2 L293.2 292.3 L295.6 297.9 L298.2 302.8 L302.0 307.2 L306.5 310.8 L311.0 313.0 L316.4 314.5 L325.0 315.3" fill="none" stroke="#404040" stroke-width="1.7" stroke-linejoin="round" stroke-linecap="round" opacity="1" filter="url(#sh)"/></g>
<g class="t"><text x="218.4" y="80.5" text-anchor="middle">1</text><path d="M224.4 82.5 L244.4 98.8" stroke="#111" stroke-width="2" fill="none"/><path d="M238.0 98.0 L244.4 98.8 L242.3 92.6" stroke="#111" stroke-width="2" fill="none" stroke-linejoin="miter"/><text x="130" y="239.7" text-anchor="middle">13</text><path d="M132.3 243.7 L152.6 259.7" stroke="#111" stroke-width="2" fill="none"/><path d="M146.1 259.0 L152.6 259.7 L150.4 253.6" stroke="#111" stroke-width="2" fill="none" stroke-linejoin="miter"/><text x="194.2" y="253.1" text-anchor="middle">15</text><path d="M195.2 256.6 L217.4 275.9" stroke="#111" stroke-width="2" fill="none"/><path d="M211.0 274.9 L217.4 275.9 L215.5 269.7" stroke="#111" stroke-width="2" fill="none" stroke-linejoin="miter"/><text x="294.7" y="236.2" text-anchor="middle">11</text><path d="M299.8 238.9 L320.1 254.1" stroke="#111" stroke-width="2" fill="none"/><path d="M313.6 253.6 L320.1 254.1 L317.8 248.0" stroke="#111" stroke-width="2" fill="none" stroke-linejoin="miter"/><text x="322.4" y="234.8" text-anchor="middle">3</text><path d="M325.8 235.5 L345.1 252.5" stroke="#111" stroke-width="2" fill="none"/><path d="M338.7 251.4 L345.1 252.5 L343.2 246.3" stroke="#111" stroke-width="2" fill="none" stroke-linejoin="miter"/><text x="357.1" y="224.0" text-anchor="middle">7</text><path d="M361.4 226.4 L380.5 241.8" stroke="#111" stroke-width="2" fill="none"/><path d="M374.0 241.0 L380.5 241.8 L378.4 235.7" stroke="#111" stroke-width="2" fill="none" stroke-linejoin="miter"/><text x="383.1" y="198.6" text-anchor="middle">9</text><path d="M386.6 199.9 L406.9 215.6" stroke="#111" stroke-width="2" fill="none"/><path d="M400.4 215.0 L406.9 215.6 L404.6 209.5" stroke="#111" stroke-width="2" fill="none" stroke-linejoin="miter"/><text x="404.2" y="190.0" text-anchor="middle">5</text><path d="M407.8 192.2 L428.1 208.1" stroke="#111" stroke-width="2" fill="none"/><path d="M421.6 207.4 L428.1 208.1 L425.9 202.0" stroke="#111" stroke-width="2" fill="none" stroke-linejoin="miter"/></g>
<text class="b" x="266" y="351.9" text-anchor="middle">sample no.</text>
<text class="b" transform="translate(8.4,160) rotate(-90)" text-anchor="middle">count [a.u.]</text>
</svg>
</body></html>
